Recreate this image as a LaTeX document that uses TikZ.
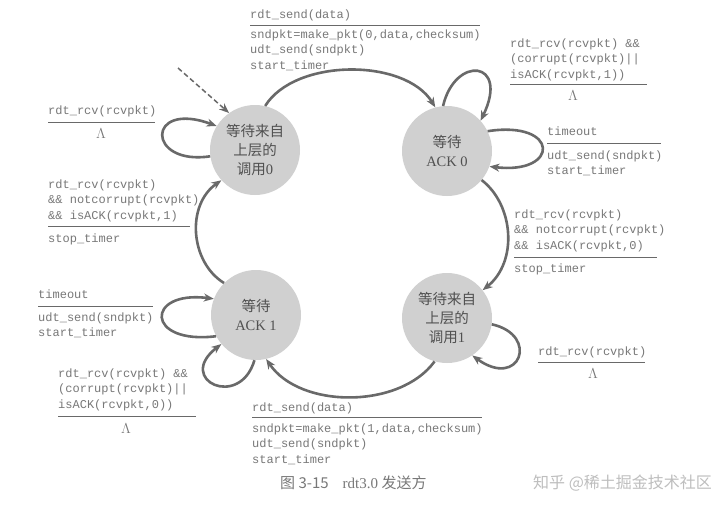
\documentclass[tikz,border=0pt]{standalone}
\usepackage{fontspec}
\setmainfont{Liberation Serif}
\newfontfamily\cjk{Noto Sans CJK SC}
\newfontfamily\monof{Liberation Mono}
\usetikzlibrary{arrows.meta}
\definecolor{circfill}{RGB}{208,208,208}
\definecolor{arrowc}{RGB}{105,105,105}
\definecolor{txtc}{RGB}{120,120,120}
\definecolor{statetxt}{RGB}{80,80,80}
\definecolor{wmark}{RGB}{190,190,190}
\tikzset{
  state/.style={circle, fill=circfill, minimum size=90pt, inner sep=0pt, align=center, text=statetxt, font=\fontsize{14.5}{19}\selectfont},
  arr/.style={draw=arrowc, line width=2.6pt, -{Stealth[length=10pt,width=8pt]}},
  initarr/.style={draw=arrowc, line width=1.5pt, dash pattern=on 5pt off 3pt, -{Stealth[length=10pt,width=8pt]}},
  lbl/.style={anchor=base west, inner sep=0pt, align=left, text=txtc, font=\monof\fontsize{12}{15.5}\selectfont},
  sep/.style={draw=arrowc, line width=1pt},
  lam/.style={anchor=center, inner sep=0pt, text=txtc, font=\fontsize{14}{16}\selectfont},
}
\begin{document}
\begin{tikzpicture}[x=1pt,y=-1pt]
\useasboundingbox (0,0) rectangle (720,514);
\fill[white] (0,0) rectangle (720,514);

% states
\node[state] (s0) at (255,150) {{\cjk 等待来自}\\{\cjk 上层的}\\{\cjk 调用}0};
\node[state] (ack0) at (447,151) {{\cjk 等待}\\ACK 0};
\node[state] (ack1) at (256,315) {{\cjk 等待}\\ACK 1};
\node[state] (call1) at (447,318) {{\cjk 等待来自}\\{\cjk 上层的}\\{\cjk 调用}1};

% initial arrow
\coordinate (init) at (178,68);
\draw[initarr] (init) -- (s0.125);

% main transitions
\draw[arr] (s0.77) .. controls (295,58) and (405,58) .. (ack0.105);
\draw[arr] (ack0.-40) .. controls (514,205) and (518,262) .. (call1.38);
\draw[arr] (call1.-106) .. controls (400,409) and (300,409) .. (ack1.-77);
\draw[arr] (ack1.135) .. controls (190,262) and (186,205) .. (s0.-138);

% self loops
\draw[arr] (s0.188) .. controls (146,166) and (146,100) .. (s0.148);
\draw[arr] (ack0.95) .. controls (455,55) and (510,60) .. (ack0.42);
\draw[arr] (ack0.26) .. controls (560,120) and (560,175) .. (ack0.-20);
\draw[arr] (ack1.208) .. controls (145,345) and (145,290) .. (ack1.159);
\draw[arr] (ack1.-92) .. controls (240,410) and (175,380) .. (ack1.220);
\draw[arr] (call1.-8) .. controls (540,335) and (520,390) .. (call1.-56);

% label: top
\node[lbl] (tc) at (250,19) {rdt\_send(data)};
\draw[sep] (250,25) -- (480,25);
\node[lbl] (ta) at (250,69) {sndpkt=make\_pkt(0,data,checksum)\\udt\_send(sndpkt)\\start\_timer};

% label: ack0 top loop
\node[lbl] (a0c) at (510,78) {rdt\_rcv(rcvpkt) \&\&\\(corrupt(rcvpkt)||\\isACK(rcvpkt,1))};
\draw[sep] (510,84) -- (647,84);
\node[lam] (a0l) at (573,96) {$\Lambda$};

% label: ack0 timeout
\node[lbl] (a0tc) at (547,135) {timeout};
\draw[sep] (547,143) -- (661,143);
\node[lbl] (a0ta) at (547,174.5) {udt\_send(sndpkt)\\start\_timer};

% label: right middle
\node[lbl] (rc) at (514,249) {rdt\_rcv(rcvpkt)\\\&\& notcorrupt(rcvpkt)\\\&\& isACK(rcvpkt,0)};
\draw[sep] (514,257) -- (657,257);
\node[lbl] (ra) at (514,272) {stop\_timer};

% label: call1 loop
\node[lbl] (c1c) at (538,355) {rdt\_rcv(rcvpkt)};
\draw[sep] (538,362) -- (645,362);
\node[lam] (c1l) at (593,374) {$\Lambda$};

% label: bottom
\node[lbl] (bc) at (252,411) {rdt\_send(data)};
\draw[sep] (252,417) -- (482,417);
\node[lbl] (ba) at (252,463) {sndpkt=make\_pkt(1,data,checksum)\\udt\_send(sndpkt)\\start\_timer};

% label: ack1 lower loop
\node[lbl] (a1c) at (58,408) {rdt\_rcv(rcvpkt) \&\&\\(corrupt(rcvpkt)||\\isACK(rcvpkt,0))};
\draw[sep] (58,416) -- (196,416);
\node[lam] (a1l) at (126,429) {$\Lambda$};

% label: ack1 timeout
\node[lbl] (a1tc) at (38,298) {timeout};
\draw[sep] (38,306) -- (153,306);
\node[lbl] (a1ta) at (38,336.5) {udt\_send(sndpkt)\\start\_timer};

% label: s0 loop
\node[lbl] (s0c) at (48,114) {rdt\_rcv(rcvpkt)};
\draw[sep] (48,122) -- (155,122);
\node[lam] (s0l) at (101,134) {$\Lambda$};

% label: left middle
\node[lbl] (lc) at (48,219) {rdt\_rcv(rcvpkt)\\\&\& notcorrupt(rcvpkt)\\\&\& isACK(rcvpkt,1)};
\draw[sep] (48,226) -- (190,226);
\node[lbl] (la) at (48,242) {stop\_timer};

% caption and watermark
\node[anchor=west, inner sep=0pt, text=txtc, font=\cjk\fontsize{15}{18}\selectfont] (cap) at (280,483) {图 3-15\hspace{14pt}{\rmfamily rdt3.0} 发送方};
\node[anchor=west, inner sep=0pt, text=wmark, font=\cjk\fontsize{16}{19}\selectfont] (wm) at (533,483) {知乎 @稀土掘金技术社区};
\end{tikzpicture}
\end{document}
